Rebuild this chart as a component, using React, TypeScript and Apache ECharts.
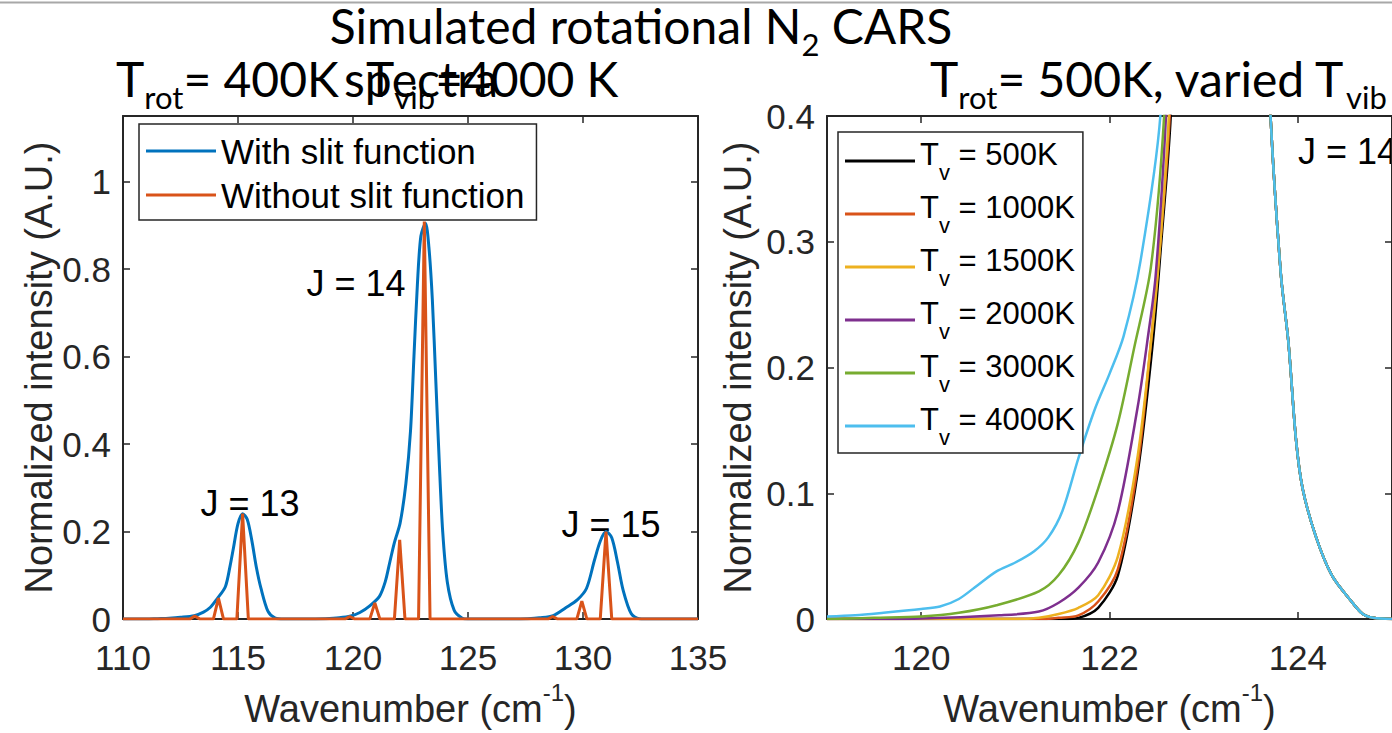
import React, { useEffect, useRef } from 'react';
import * as echarts from 'echarts';

const FONT = "'Liberation Sans', Arial, Helvetica, sans-serif";
const TFONT = "Lato, 'Liberation Sans', sans-serif";
const AX = '#262626';

const leftXTicks = [110, 115, 120, 125, 130, 135];
const leftYTicks = [0, 0.2, 0.4, 0.6, 0.8, 1];
const rightXTicks = [120, 122, 124];
const rightYTicks = [0, 0.1, 0.2, 0.3, 0.4];

// Left panel: T_rot = 400 K, T_vib = 4000 K
const withSlit: [number, number][] = [
  [110, 0], [111, 0], [111.5, 0.001], [112, 0.002], [112.5, 0.004], [113.1, 0.008], [113.5, 0.016],
  [113.8, 0.027], [114.1, 0.047], [114.45, 0.074], [114.65, 0.12], [114.8, 0.162], [115.0, 0.218],
  [115.2, 0.241], [115.4, 0.228], [115.6, 0.18], [115.8, 0.118], [116.0, 0.07], [116.3, 0.018],
  [116.6, 0.003], [117, 0], [118, 0], [118.8, 0.001], [119.4, 0.003], [119.9, 0.007], [120.3, 0.015],
  [120.7, 0.029], [121.15, 0.052], [121.4, 0.085], [121.6, 0.13], [121.8, 0.175], [122.05, 0.22],
  [122.3, 0.31], [122.5, 0.43], [122.65, 0.6], [122.8, 0.765], [122.95, 0.875], [123.15, 0.905],
  [123.3, 0.85], [123.45, 0.73], [123.6, 0.545], [123.75, 0.36], [123.9, 0.2], [124.1, 0.085],
  [124.4, 0.02], [124.75, 0.002], [125, 0], [127, 0], [127.6, 0.001], [128.1, 0.003], [128.7, 0.008],
  [129.25, 0.026], [129.75, 0.044], [130.15, 0.07], [130.5, 0.135], [130.75, 0.178], [131.0, 0.2],
  [131.25, 0.186], [131.5, 0.13], [131.75, 0.065], [132.1, 0.012], [132.45, 0.001], [133, 0], [135, 0],
];

const withoutSlit: [number, number][] = [
  [110, 0],
  [112.9, 0], [113.12, 0.007], [113.35, 0],
  [113.93, 0], [114.15, 0.048], [114.37, 0],
  [114.95, 0], [115.2, 0.241], [115.45, 0],
  [119.65, 0], [119.86, 0.006], [120.08, 0],
  [120.73, 0], [120.95, 0.037], [121.17, 0],
  [121.8, 0], [122.03, 0.181], [122.26, 0],
  [122.85, 0], [123.1, 0.909], [123.35, 0],
  [128.47, 0], [128.68, 0.006], [128.9, 0],
  [129.73, 0], [129.95, 0.041], [130.17, 0],
  [130.75, 0], [131.0, 0.2], [131.25, 0],
  [135, 0],
];

// Right panel: T_rot = 500 K, varied T_vib (rising edges)
const rise500: [number, number][] = [
  [119, 0], [121.5, 0], [121.67, 0.001], [121.88, 0.009], [122.09, 0.035], [122.3, 0.117], [122.46, 0.22], [122.55, 0.3], [122.65, 0.4],
];
const rise1000: [number, number][] = [
  [119, 0], [121.3, 0], [121.46, 0.001], [121.67, 0.003], [121.88, 0.014], [122.09, 0.04], [122.3, 0.122], [122.44, 0.22], [122.54, 0.3], [122.64, 0.4],
];
const rise1500: [number, number][] = [
  [119, 0], [121, 0], [121.25, 0.001], [121.46, 0.004], [121.67, 0.009], [121.88, 0.019], [122.09, 0.05], [122.3, 0.13], [122.44, 0.22], [122.53, 0.29], [122.63, 0.4],
];
const rise2000: [number, number][] = [
  [119, 0], [120, 0.0005], [120.83, 0.003], [121.25, 0.006], [121.46, 0.013], [121.67, 0.025], [121.88, 0.045], [122.09, 0.086], [122.3, 0.169], [122.4, 0.22], [122.49, 0.273], [122.6, 0.4],
];
const rise3000: [number, number][] = [
  [119, 0], [119.5, 0.001], [120, 0.002], [120.4, 0.005], [120.8, 0.011], [121.25, 0.022], [121.46, 0.035], [121.67, 0.061], [121.88, 0.104], [122.09, 0.156], [122.26, 0.215], [122.44, 0.28], [122.58, 0.4],
];
const rise4000: [number, number][] = [
  [119, 0.002], [119.3, 0.003], [119.6, 0.005], [120, 0.008], [120.2, 0.01], [120.4, 0.016], [120.6, 0.027], [120.8, 0.038], [121.0, 0.045], [121.2, 0.054], [121.35, 0.065], [121.5, 0.086], [121.67, 0.128], [121.85, 0.168], [122.0, 0.195], [122.15, 0.225], [122.33, 0.285], [122.54, 0.4],
];
// shared J = 14 peak top (off-scale) and falling edge
const peakTop: [number, number][] = [[122.85, 0.8], [123.1, 1.05], [123.4, 0.9], [123.6, 0.6]];
const fallEdge: [number, number][] = [
  [123.71, 0.4], [123.82, 0.274], [123.9, 0.22], [123.98, 0.143], [124.05, 0.104], [124.19, 0.066], [124.36, 0.035], [124.57, 0.014], [124.69, 0.004], [124.8, 0.001], [125, 0],
];

const tvNames = ['T_v = 500K', 'T_v = 1000K', 'T_v = 1500K', 'T_v = 2000K', 'T_v = 3000K', 'T_v = 4000K'];
const tvColors = ['#000000', '#D95319', '#EDB120', '#7E2F8E', '#77AC30', '#4DBEEE'];
const tvRises = [rise500, rise1000, rise1500, rise2000, rise3000, rise4000];

const tickLabel = { fontSize: 35, color: AX, fontFamily: FONT };

function xAxisPair(grid: number, min: number, max: number, ticks: number[]) {
  const common = {
    type: 'value', gridIndex: grid, min, max,
    axisLine: { show: true, onZero: false, lineStyle: { color: AX, width: 2 } },
    axisTick: { show: true, inside: true, length: 7, customValues: ticks, lineStyle: { color: AX, width: 1.5 } },
    splitLine: { show: false },
  };
  return [
    {
      ...common, position: 'bottom',
      axisLabel: { ...tickLabel, customValues: ticks, margin: 21 },
      name: '{a|Wavenumber (cm}{b|-1}{a|)}', nameLocation: 'middle', nameGap: 54,
      nameTextStyle: {
        rich: {
          a: { fontSize: 38, fontFamily: FONT, color: AX, lineHeight: 48, verticalAlign: 'bottom' },
          b: { fontSize: 24, fontFamily: FONT, color: AX, lineHeight: 22, verticalAlign: 'top' },
        },
      },
    },
    { ...common, position: 'top', axisLabel: { show: false } },
  ];
}

function yAxisPair(grid: number, min: number, max: number, ticks: number[], gap: number) {
  const common = {
    type: 'value', gridIndex: grid, min, max,
    axisLine: { show: true, onZero: false, lineStyle: { color: AX, width: 2 } },
    axisTick: { show: true, inside: true, length: 7, customValues: ticks, lineStyle: { color: AX, width: 1.5 } },
    splitLine: { show: false },
  };
  return [
    {
      ...common, position: 'left',
      axisLabel: { ...tickLabel, customValues: ticks, margin: 12 },
      name: 'Normalized intensity (A.U.)', nameLocation: 'middle', nameGap: gap,
      nameTextStyle: { fontSize: 38, fontFamily: FONT, color: AX },
    },
    { ...common, position: 'right', axisLabel: { show: false } },
  ];
}

const titleRich = {
  m: { fontSize: 48, fontFamily: TFONT, fill: '#000', color: '#000', lineHeight: 58, verticalAlign: 'top' },
  s: { fontSize: 31, fontFamily: TFONT, fill: '#000', color: '#000', lineHeight: 14, verticalAlign: 'bottom' },
};

const jFont = `36px ${FONT}`;

export default function App() {
  const ref = useRef<HTMLDivElement>(null);
  useEffect(() => {
    if (!ref.current) return;
    const chart = echarts.init(ref.current, null, { renderer: 'svg' });
    const series: any[] = [
      {
        name: 'With slit function', type: 'line', xAxisIndex: 0, yAxisIndex: 0, data: withSlit,
        symbol: 'none', smooth: 0.3, lineStyle: { color: '#0072BD', width: 3 }, itemStyle: { color: '#0072BD' },
      },
      {
        name: 'Without slit function', type: 'line', xAxisIndex: 0, yAxisIndex: 0, data: withoutSlit,
        symbol: 'none', lineStyle: { color: '#D95319', width: 3 }, itemStyle: { color: '#D95319' },
      },
    ];
    tvNames.forEach((n, i) => {
      series.push({
        name: n, type: 'line', xAxisIndex: 2, yAxisIndex: 2,
        data: [...tvRises[i], ...peakTop, ...fallEdge],
        symbol: 'none', smooth: 0.3, clip: true,
        lineStyle: { color: tvColors[i], width: 2.5 }, itemStyle: { color: tvColors[i] },
      });
    });

    chart.setOption({
      animation: false,
      backgroundColor: '#ffffff',
      grid: [
        { left: 123, top: 116, width: 575, height: 519 },
        { left: 827, top: 116, width: 576, height: 519 },
      ],
      xAxis: [...xAxisPair(0, 110, 135, leftXTicks), ...xAxisPair(1, 119, 125, rightXTicks)],
      yAxis: [...yAxisPair(0, 0, 1.15, leftYTicks, 50), ...yAxisPair(1, 0, 0.4, rightYTicks, 70)],
      legend: [
        {
          data: ['With slit function', 'Without slit function'], orient: 'vertical', left: 139, top: 124,
          padding: [8, 12, 6, 7], itemGap: 6, itemWidth: 70, itemHeight: 3, icon: 'rect',
          borderColor: AX, borderWidth: 1.5, borderRadius: 0, backgroundColor: '#ffffff',
          textStyle: { fontSize: 35, fontFamily: FONT, color: '#000', lineHeight: 38 },
          selectedMode: false,
        },
        {
          data: tvNames, orient: 'vertical', left: 838, top: 132,
          padding: [7, 8, 5, 7], itemGap: 9, itemWidth: 70, itemHeight: 3, icon: 'rect',
          borderColor: AX, borderWidth: 1.5, borderRadius: 0, backgroundColor: '#ffffff',
          formatter: (n: string) => `{m|T}{s|v}{m|${n.slice(3)}}`,
          textStyle: {
            rich: {
              m: { fontSize: 31, fontFamily: FONT, color: '#000', lineHeight: 44, verticalAlign: 'top' },
              s: { fontSize: 22, fontFamily: FONT, color: '#000', lineHeight: 16, verticalAlign: 'bottom' },
            },
          },
          selectedMode: false,
        },
      ],
      graphic: [
        { type: 'line', shape: { x1: 0, y1: 2.5, x2: 1392, y2: 2.5 }, style: { stroke: '#a8a8a8', lineWidth: 2 } },
        {
          type: 'text', x: 641, y: 1,
          style: { text: '{m|Simulated rotational N}{s|2}{m| CARS}', rich: titleRich, textAlign: 'center' },
        },
        {
          type: 'text', x: 116, y: 54,
          style: { text: '{m|T}{s|rot}{m|= 400K}', rich: titleRich },
        },
        {
          type: 'text', x: 344, y: 54,
          style: { text: '{m|spectra}', rich: titleRich },
        },
        {
          type: 'text', x: 366, y: 54,
          style: { text: '{m|T}{s|vib}{m|=4000 K}', rich: titleRich },
        },
        {
          type: 'text', x: 930, y: 54,
          style: { text: '{m|T}{s|rot}{m|= 500K, varied T}{s|vib}', rich: titleRich },
        },
        { type: 'text', x: 250, y: 503, style: { text: 'J = 13', font: jFont, fill: '#000', textAlign: 'center', textVerticalAlign: 'middle' } },
        { type: 'text', x: 356, y: 283, style: { text: 'J = 14', font: jFont, fill: '#000', textAlign: 'center', textVerticalAlign: 'middle' } },
        { type: 'text', x: 611, y: 524, style: { text: 'J = 15', font: jFont, fill: '#000', textAlign: 'center', textVerticalAlign: 'middle' } },
        { type: 'text', x: 1298, y: 151, style: { text: 'J = 14', font: jFont, fill: '#000', textAlign: 'left', textVerticalAlign: 'middle' } },
      ],
      series,
    });
    return () => chart.dispose();
  }, []);
  return (
    <div
      ref={ref}
      style={{ position: 'fixed', left: 0, top: 0, width: 1392, height: 733, background: '#fff' }}
    />
  );
}
